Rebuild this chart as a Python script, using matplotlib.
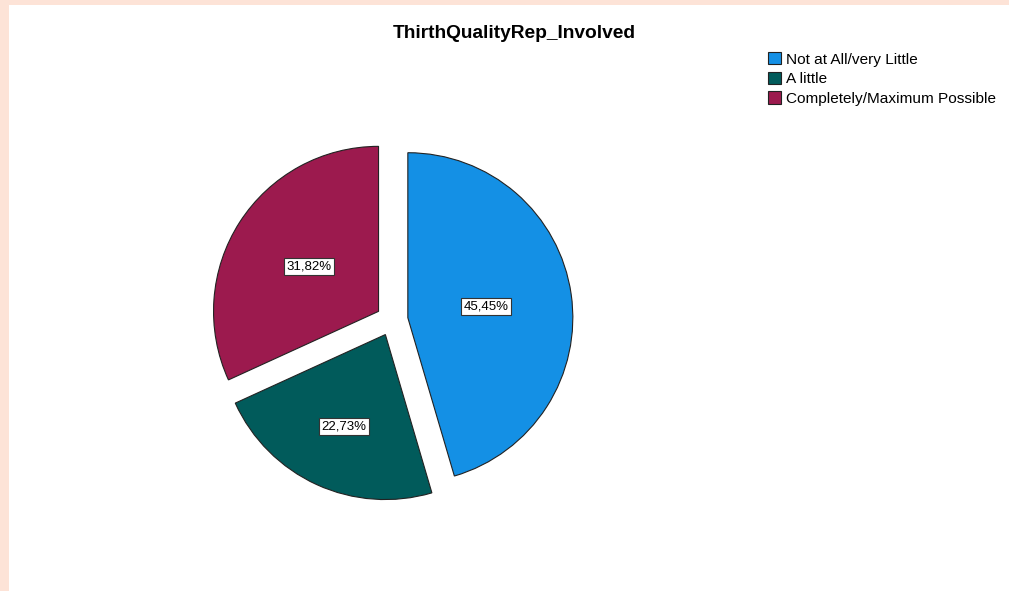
import math
import matplotlib.pyplot as plt
from matplotlib.patches import Rectangle

plt.rcParams['font.family'] = ['Liberation Sans', 'DejaVu Sans']

categories = ['Not at All/very Little', 'A little', 'Completely/Maximum Possible']
percents = [45.45, 22.73, 31.82]
colors = ['#1490e5', '#015b5b', '#9c1a4e']
title = 'ThirthQualityRep_Involved'

# how far out each percent box sits, as a share of the radius
label_dist = [0.48, 0.61, 0.50]

W, H = 1009, 591
fig = plt.figure(figsize=(W / 100, H / 100), dpi=100)
ax = fig.add_axes([0, 0, 1, 1])

# axes in pixel units, so explode is in pixels too
wedges, texts, autotexts = ax.pie(
    percents, colors=colors, startangle=90, counterclock=False,
    center=(392, H - 320), radius=165, explode=[16] * 3,
    autopct=lambda p: f'{p:.2f}%'.replace('.', ','), pctdistance=0.53,
    wedgeprops=dict(edgecolor='#222222', linewidth=0.8),
    textprops=dict(fontsize=9.5, color='black'))
for w, t, d in zip(wedges, autotexts, label_dist):
    mid = math.radians((w.theta1 + w.theta2) / 2)
    cx, cy = w.center
    t.set_position((cx + d * w.r * math.cos(mid), cy + d * w.r * math.sin(mid)))
    t.set_bbox(dict(facecolor='white', edgecolor='#333333', linewidth=0.8, pad=1.8))

ax.set_xlim(0, W)
ax.set_ylim(0, H)
ax.set_aspect('equal')
ax.axis('off')

ax.text(514, H - 33, title, ha='center', va='center', fontsize=13.8, fontweight='bold')

fig.legend(wedges, categories, loc='upper left', bbox_to_anchor=(762 / W, 1 - 46 / H),
           frameon=False, fontsize=11.1, handlelength=0.85, handleheight=0.85,
           handletextpad=0.3, labelspacing=0.33, borderaxespad=0)

# peach frame on the left and top
fig.patches.append(Rectangle((0, 0), 9 / W, 1, transform=fig.transFigure,
                             facecolor='#fde3d7', edgecolor='none'))
fig.patches.append(Rectangle((0, 1 - 5 / H), 1, 5 / H, transform=fig.transFigure,
                             facecolor='#fde3d7', edgecolor='none'))

plt.savefig('out.png', dpi=100)
